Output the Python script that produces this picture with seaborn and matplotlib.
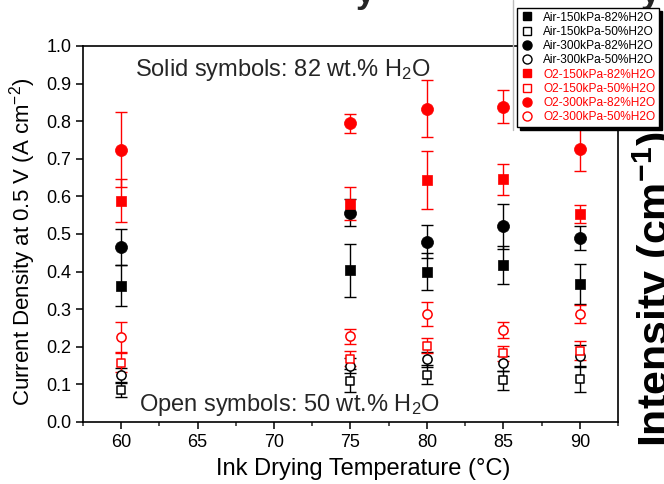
import matplotlib
matplotlib.use("Agg")
import matplotlib.pyplot as plt
import seaborn as sns
import pandas as pd
from matplotlib.lines import Line2D
from matplotlib.ticker import MultipleLocator, FormatStrFormatter

# ---- data ----
temps = [60, 75, 80, 85, 90]
labels = ["Air-150kPa-82%H2O", "Air-150kPa-50%H2O", "Air-300kPa-82%H2O", "Air-300kPa-50%H2O",
          "O2-150kPa-82%H2O", "O2-150kPa-50%H2O", "O2-300kPa-82%H2O", "O2-300kPa-50%H2O"]
air150_82 = [0.363, 0.403, 0.400, 0.417, 0.368]
air150_82_err = [0.055, 0.070, 0.050, 0.050, 0.053]
air150_50 = [0.086, 0.110, 0.126, 0.111, 0.114]
air150_50_err = [0.020, 0.030, 0.025, 0.025, 0.035]
air300_82 = [0.465, 0.557, 0.480, 0.520, 0.490]
air300_82_err = [0.047, 0.035, 0.045, 0.060, 0.032]
air300_50 = [0.124, 0.149, 0.167, 0.156, 0.175]
air300_50_err = [0.020, 0.020, 0.020, 0.020, 0.030]
o2150_82 = [0.589, 0.581, 0.644, 0.645, 0.553]
o2150_82_err = [0.058, 0.045, 0.078, 0.042, 0.025]
o2150_50 = [0.158, 0.168, 0.203, 0.183, 0.190]
o2150_50_err = [0.025, 0.020, 0.020, 0.020, 0.025]
o2300_82 = [0.724, 0.794, 0.833, 0.839, 0.725]
o2300_82_err = [0.100, 0.026, 0.076, 0.045, 0.057]
o2300_50 = [0.226, 0.228, 0.287, 0.245, 0.287]
o2300_50_err = [0.040, 0.020, 0.033, 0.022, 0.025]

values = [air150_82, air150_50, air300_82, air300_50, o2150_82, o2150_50, o2300_82, o2300_50]
errors = [air150_82_err, air150_50_err, air300_82_err, air300_50_err,
          o2150_82_err, o2150_50_err, o2300_82_err, o2300_50_err]

colors = ["black"] * 4 + ["#ff0000"] * 4
markers = ["s", "s", "o", "o"] * 2
filled = [True, False, True, False] * 2
sizes = [52, 27, 75, 44] * 2

sns.set_theme(style="ticks")
plt.rcParams['font.family'] = ['Liberation Sans', 'DejaVu Sans']
plt.rcParams['mathtext.fontset'] = 'custom'
plt.rcParams['mathtext.rm'] = 'Liberation Sans'
plt.rcParams['mathtext.it'] = 'Liberation Sans:italic'
plt.rcParams['mathtext.bf'] = 'Liberation Sans:bold'

fig = plt.figure(figsize=(6.64, 4.84), dpi=100)

# fragments of the underlying figure visible behind the chart
fig.text(631 / 664, 1 - 447 / 484, r"Intensity (cm$^{\mathbf{-1}}$)", rotation=90, fontsize=31,
         fontweight='bold', ha='left', va='bottom', color='black')
fig.text(365 / 664, 1 - 3 / 484, "y", fontsize=25, fontweight='bold', ha='center', va='baseline')
fig.text(650 / 664, 1 - 3 / 484, "y", fontsize=25, fontweight='bold', ha='center', va='baseline')
fig.add_artist(Line2D([513 / 664, 513 / 664], [1, 1 - 130 / 484], color='#bbbbbb', lw=1))

ax = fig.add_axes([83 / 664, 1 - 422 / 484, (618 - 83) / 664, (422 - 46) / 484])
ax.set_facecolor('white')

for lab, v, e, c, m, f, s in zip(labels, values, errors, colors, markers, filled, sizes):
    df = pd.DataFrame({"T": temps, "J": v})
    ax.errorbar(temps, v, yerr=e, fmt='none', ecolor=c, elinewidth=1.0, capsize=4.5,
                capthick=1.0, zorder=2)
    if f:
        sns.scatterplot(data=df, x="T", y="J", marker=m, s=s, color=c, edgecolor=c,
                        linewidth=0.5, ax=ax, zorder=3)
    else:
        sns.scatterplot(data=df, x="T", y="J", marker=m, s=s, facecolor='white',
                        edgecolor=c, linewidth=1.1, ax=ax, zorder=3)

ax.set_xlim(57.5, 92.5)
ax.set_ylim(0.0, 1.0)
ax.xaxis.set_major_locator(MultipleLocator(5))
ax.xaxis.set_minor_locator(MultipleLocator(2.5))
ax.yaxis.set_major_locator(MultipleLocator(0.1))
ax.yaxis.set_major_formatter(FormatStrFormatter('%.1f'))
ax.tick_params(axis='both', which='major', direction='out', length=5, width=1.1,
               labelsize=13, color='black', labelcolor='black')
ax.tick_params(axis='both', which='minor', direction='out', length=3, width=1.1)
ax.tick_params(axis='y', which='minor', left=False)
for sp in ax.spines.values():
    sp.set_visible(True)
    sp.set_color('black')
    sp.set_linewidth(1.2)

ax.set_xlabel("Ink Drying Temperature (°C)", fontsize=17, color='black')
ax.set_ylabel("Current Density at 0.5 V (A cm$^{-2}$)", fontsize=16, color='black')
ax.xaxis.set_label_coords(0.523, -0.097)
ax.yaxis.set_label_coords(-0.085, 0.48)

ax.text(70.6, 0.936, "Solid symbols: 82 wt.% H$_2$O", fontsize=17, ha='center', va='center')
ax.text(71.0, 0.045, "Open symbols: 50 wt.% H$_2$O", fontsize=17, ha='center', va='center')

handles = []
for c, m, f in zip(colors, markers, filled):
    handles.append(Line2D([], [], linestyle='none', marker=m, markersize=6 if m == 's' else 6.5,
                          markerfacecolor=c if f else 'white', markeredgecolor=c,
                          markeredgewidth=1.0))
leg = fig.legend(handles, labels, loc='upper left', bbox_to_anchor=(517 / 664, 1 - 8 / 484),
                 fontsize=8.6, frameon=True, fancybox=False, edgecolor='black',
                 framealpha=1, labelspacing=0.19, handletextpad=0.9, handlelength=1.0,
                 borderpad=0.3, borderaxespad=0,
                 shadow={'color': 'black', 'alpha': 1})
leg.get_frame().set_linewidth(1.0)
for t, c in zip(leg.get_texts(), colors):
    t.set_color(c)

fig.savefig("out.png", dpi=100)
